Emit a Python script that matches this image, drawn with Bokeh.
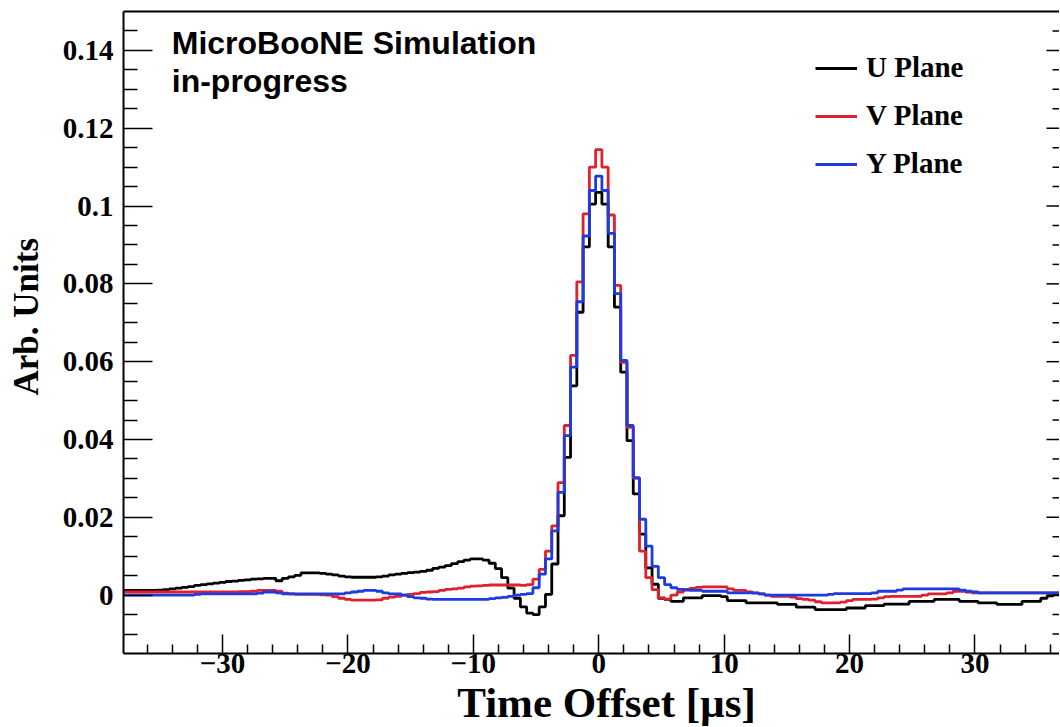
import numpy as np
from bokeh.plotting import figure
from bokeh.models import (Range1d, FixedTicker, LinearAxis, CustomJSTickFormatter,
                          Legend, LegendItem, Label)
from bokeh.embed import file_html
from bokeh.resources import INLINE

# ---------------- data ----------------
# histogram bins: 0.5 us wide, first bin centred at -38.0 us, last at 37.0 us
BIN_FIRST_CENTER = -38.0
BIN_WIDTH = 0.5

u_plane = [
    0.0012, 0.0012, 0.0012, 0.0012, 0.0012, 0.0012, 0.0013, 0.0014, 0.0016, 0.0018,
    0.0020, 0.0022, 0.0025, 0.0027, 0.0029, 0.0031, 0.0033, 0.0035, 0.0036, 0.0038,
    0.0039, 0.0041, 0.0042, 0.0043, 0.0043, 0.0037, 0.0043, 0.0047, 0.0051, 0.0057,
    0.0057, 0.0057, 0.0056, 0.0054, 0.0052, 0.0049, 0.0047, 0.0046, 0.0046, 0.0046,
    0.0046, 0.0047, 0.0049, 0.0052, 0.0054, 0.0056, 0.0058, 0.0059, 0.0061, 0.0064,
    0.0069, 0.0072, 0.0076, 0.0081, 0.0086, 0.0090, 0.0093, 0.0093, 0.0090, 0.0082,
    0.0068, 0.0045, 0.0018, -0.0008, -0.0030, -0.0046, -0.0050, -0.0030, 0.0002, 0.0080,
    0.0204, 0.0354, 0.0538, 0.0727, 0.0895, 0.1005, 0.1035, 0.1005, 0.0895, 0.0740,
    0.0573, 0.0397, 0.0260, 0.0157, 0.0070, 0.0028, -0.0008, -0.0011, -0.0016, -0.0016,
    -0.0007, -0.0007, -0.0007, -0.0001, -0.0001, -0.0001, -0.0004, -0.0014, -0.0014, -0.0014,
    -0.0020, -0.0020, -0.0020, -0.0020, -0.0020, -0.0024, -0.0024, -0.0024, -0.0031, -0.0031,
    -0.0031, -0.0037, -0.0037, -0.0037, -0.0037, -0.0037, -0.0033, -0.0033, -0.0033, -0.0027,
    -0.0027, -0.0027, -0.0023, -0.0023, -0.0023, -0.0023, -0.0016, -0.0016, -0.0016, -0.0016,
    -0.0011, -0.0011, -0.0011, -0.0011, -0.0016, -0.0016, -0.0016, -0.0020, -0.0020, -0.0020,
    -0.0024, -0.0024, -0.0024, -0.0024, -0.0016, -0.0016, -0.0016, -0.0008, -0.0002, 0.0001,
    0.0002,
]

v_plane = [
    0.0008, 0.0008, 0.0008, 0.0008, 0.0008, 0.0008, 0.0008, 0.0008, 0.0008, 0.0008,
    0.0008, 0.0008, 0.0008, 0.0008, 0.0008, 0.0008, 0.0008, 0.0008, 0.0008, 0.0009,
    0.0009, 0.0010, 0.0012, 0.0012, 0.0012, 0.0010, 0.0005, 0.0003, 0.0002, 0.0002,
    0.0002, 0.0002, 0.0001, 0.0000, -0.0004, -0.0008, -0.0011, -0.0013, -0.0013, -0.0013,
    -0.0013, -0.0012, -0.0008, -0.0005, -0.0003, 0.0000, 0.0002, 0.0004, 0.0007, 0.0008,
    0.0009, 0.0012, 0.0015, 0.0016, 0.0018, 0.0021, 0.0023, 0.0024, 0.0025, 0.0026,
    0.0026, 0.0026, 0.0026, 0.0026, 0.0025, 0.0027, 0.0041, 0.0066, 0.0113, 0.0178,
    0.0289, 0.0436, 0.0616, 0.0805, 0.0980, 0.1100, 0.1145, 0.1100, 0.0977, 0.0796,
    0.0598, 0.0431, 0.0300, 0.0113, 0.0045, 0.0014, -0.0007, -0.0010, 0.0000, 0.0008,
    0.0015, 0.0017, 0.0020, 0.0021, 0.0021, 0.0021, 0.0021, 0.0016, 0.0012, 0.0012,
    0.0008, 0.0005, 0.0003, 0.0000, -0.0003, -0.0003, -0.0003, -0.0005, -0.0009, -0.0011,
    -0.0013, -0.0017, -0.0020, -0.0020, -0.0020, -0.0018, -0.0014, -0.0011, -0.0011, -0.0011,
    -0.0010, -0.0007, -0.0004, -0.0003, -0.0003, -0.0003, -0.0003, -0.0003, 0.0000, 0.0003,
    0.0003, 0.0003, 0.0006, 0.0010, 0.0010, 0.0008, 0.0006, 0.0006, 0.0006, 0.0006,
    0.0006, 0.0006, 0.0006, 0.0006, 0.0006, 0.0006, 0.0006, 0.0006, 0.0006, 0.0006,
    0.0006,
]

y_plane = [
    0.0000, 0.0000, 0.0000, 0.0000, 0.0000, 0.0000, 0.0000, 0.0000, 0.0000, 0.0000,
    0.0000, 0.0000, 0.0002, 0.0003, 0.0003, 0.0003, 0.0003, 0.0003, 0.0003, 0.0003,
    0.0003, 0.0003, 0.0005, 0.0008, 0.0008, 0.0006, 0.0003, 0.0003, 0.0003, 0.0003,
    0.0003, 0.0003, 0.0003, 0.0003, 0.0003, 0.0003, 0.0006, 0.0008, 0.0010, 0.0012,
    0.0012, 0.0010, 0.0006, 0.0003, 0.0003, 0.0000, -0.0004, -0.0007, -0.0008, -0.0010,
    -0.0011, -0.0011, -0.0011, -0.0011, -0.0011, -0.0011, -0.0011, -0.0011, -0.0011, -0.0009,
    -0.0007, -0.0006, -0.0003, 0.0000, 0.0002, 0.0004, 0.0019, 0.0054, 0.0093, 0.0165,
    0.0264, 0.0410, 0.0586, 0.0754, 0.0923, 0.1040, 0.1077, 0.1040, 0.0930, 0.0775,
    0.0603, 0.0436, 0.0302, 0.0195, 0.0126, 0.0074, 0.0045, 0.0027, 0.0019, 0.0015,
    0.0013, 0.0012, 0.0012, 0.0010, 0.0010, 0.0010, 0.0010, 0.0006, 0.0006, 0.0006,
    0.0006, 0.0006, 0.0003, 0.0000, 0.0000, 0.0000, 0.0000, 0.0000, 0.0000, 0.0000,
    0.0000, 0.0000, 0.0000, 0.0002, 0.0004, 0.0004, 0.0004, 0.0004, 0.0004, 0.0004,
    0.0006, 0.0010, 0.0010, 0.0010, 0.0013, 0.0016, 0.0016, 0.0016, 0.0016, 0.0016,
    0.0016, 0.0016, 0.0016, 0.0016, 0.0013, 0.0010, 0.0008, 0.0006, 0.0006, 0.0006,
    0.0006, 0.0006, 0.0006, 0.0006, 0.0006, 0.0006, 0.0006, 0.0006, 0.0006, 0.0006,
    0.0006,
]

series_names = ["U Plane", "V Plane", "Y Plane"]
series_colors = ["#000000", "#e0202c", "#1c3ce0"]

x_major_ticks = [-30, -20, -10, 0, 10, 20, 30]
x_minor_ticks = [-36, -34, -32, -28, -26, -24, -22, -18, -16, -14, -12, -8, -6, -4, -2,
                 2, 4, 6, 8, 12, 14, 16, 18, 22, 24, 26, 28, 32, 34, 36]
y_major_ticks = [0.0, 0.02, 0.04, 0.06, 0.08, 0.10, 0.12, 0.14]
y_minor_ticks = [-0.01, -0.005, 0.005, 0.01, 0.015, 0.025, 0.03, 0.035, 0.045, 0.05, 0.055,
                 0.065, 0.07, 0.075, 0.085, 0.09, 0.095, 0.105, 0.11, 0.115, 0.125, 0.13,
                 0.135, 0.145]

# ---------------- figure ----------------
FIG_W, FIG_H = 1059, 735
BORDER_L, BORDER_T, BORDER_B = 123, 11, 82
X_START = -37.9
PX_PER_X = 12.54
FRAME_W = FIG_W - BORDER_L
X_END = X_START + FRAME_W / PX_PER_X
Y_START, Y_END = -0.015, 0.15

p = figure(width=FIG_W, height=FIG_H,
           x_range=Range1d(X_START, X_END), y_range=Range1d(Y_START, Y_END),
           output_backend="svg", toolbar_location=None,
           min_border_left=BORDER_L, min_border_right=0,
           min_border_top=BORDER_T, min_border_bottom=BORDER_B,
           x_axis_type=None, y_axis_type=None)
p.outline_line_color = None
p.background_fill_color = "white"
p.border_fill_color = "white"

n = len(u_plane)
centers = BIN_FIRST_CENTER + BIN_WIDTH * np.arange(n)
edges = np.append(centers - BIN_WIDTH / 2, centers[-1] + BIN_WIDTH / 2)

renderers = []
for vals, col in zip([u_plane, v_plane, y_plane], series_colors):
    yv = list(vals) + [vals[-1]]
    r = p.step(x=edges, y=yv, mode="after", line_color=col, line_width=2.8)
    renderers.append(r)

serif = "Liberation Serif"

x_fmt = CustomJSTickFormatter(code="return tick < 0 ? '\u2212' + Math.abs(tick) : String(tick);")
y_fmt = CustomJSTickFormatter(code="return String(Math.round(tick*1000)/1000);")

xa = LinearAxis(ticker=FixedTicker(ticks=x_major_ticks, minor_ticks=x_minor_ticks),
                formatter=x_fmt)
xa.axis_label = "\u2002\u2009Time Offset [\u00b5s]"
xa.axis_label_text_font = serif
xa.axis_label_text_font_style = "bold"
xa.axis_label_text_font_size = "43px"
xa.axis_label_text_color = "black"
xa.axis_label_standoff = 3
xa.major_label_text_font = serif
xa.major_label_text_font_style = "bold"
xa.major_label_text_font_size = "29px"
xa.major_label_text_color = "black"
xa.major_label_standoff = 0
xa.major_tick_in = 19
xa.major_tick_out = 0
xa.minor_tick_in = 9
xa.minor_tick_out = 0
xa.axis_line_width = 2
xa.major_tick_line_width = 1.5
xa.minor_tick_line_width = 1.5
p.add_layout(xa, "below")

ya = LinearAxis(ticker=FixedTicker(ticks=y_major_ticks, minor_ticks=y_minor_ticks),
                formatter=y_fmt)
ya.axis_label = "\u2002\u2009\u2009Arb. Units"
ya.axis_label_text_font = serif
ya.axis_label_text_font_style = "bold"
ya.axis_label_text_font_size = "35px"
ya.axis_label_text_color = "black"
ya.axis_label_standoff = 14
ya.major_label_text_font = serif
ya.major_label_text_font_style = "bold"
ya.major_label_text_font_size = "29px"
ya.major_label_text_color = "black"
ya.major_label_standoff = 10
ya.major_tick_in = 29
ya.major_tick_out = 0
ya.minor_tick_in = 14
ya.minor_tick_out = 0
ya.axis_line_width = 2
ya.major_tick_line_width = 1.5
ya.minor_tick_line_width = 1.5
p.add_layout(ya, "left")

# top frame line
ta = LinearAxis(ticker=FixedTicker(ticks=[], minor_ticks=[]))
ta.major_tick_in = 0
ta.major_tick_out = 0
ta.minor_tick_in = 0
ta.minor_tick_out = 0
ta.major_label_standoff = 0
ta.axis_line_width = 2
p.add_layout(ta, "above")

# right-hand ticks (the frame edge itself is cropped in the reference)
ny, nm = len(y_major_ticks), len(y_minor_ticks)
p.segment(x0=[X_END] * ny, x1=[X_END - 13 / PX_PER_X] * ny, y0=y_major_ticks, y1=y_major_ticks,
          line_color="black", line_width=1.5)
p.segment(x0=[X_END] * nm, x1=[X_END - 7 / PX_PER_X] * nm, y0=y_minor_ticks, y1=y_minor_ticks,
          line_color="black", line_width=1.5)

legend = Legend(items=[LegendItem(label=nm_, renderers=[r]) for nm_, r in zip(series_names, renderers)],
                location=(692, 473))
legend.padding = 0
legend.margin = 0
legend.spacing = 15
legend.glyph_width = 42
legend.glyph_height = 28
legend.label_height = 28
legend.label_standoff = 9
legend.label_text_font = serif
legend.label_text_font_style = "bold"
legend.label_text_font_size = "29px"
legend.label_text_color = "black"
legend.background_fill_alpha = 0
legend.border_line_color = None
p.add_layout(legend)

for txt, yb in [("MicroBooNE Simulation", 0.1418), ("in-progress", 0.1322)]:
    p.add_layout(Label(x=-34.05, y=yb, text=txt, text_font="Liberation Sans",
                       text_font_style="bold", text_font_size="32px",
                       text_baseline="alphabetic", text_color="black"))

open("out.html", "w").write(file_html(p, INLINE))
